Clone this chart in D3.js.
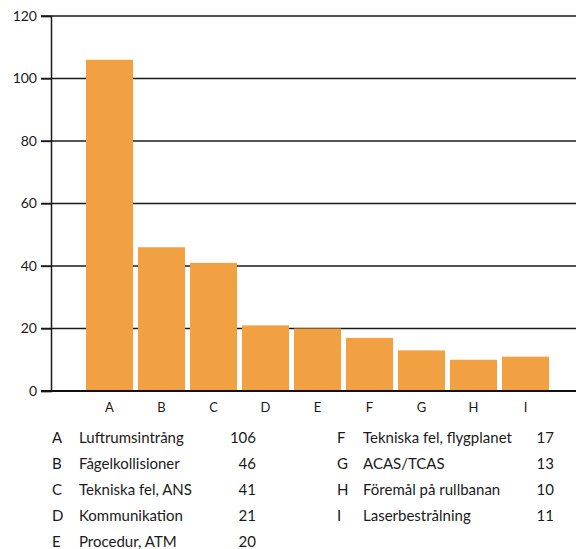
<!DOCTYPE html>
<html><head><meta charset="utf-8">
<script src="https://cdn.jsdelivr.net/npm/d3@7"></script>
<style>
html,body{margin:0;padding:0;background:#fff;}
svg text{font-family:Lato, "Open Sans", sans-serif;fill:#1a1a1a;}
</style></head>
<body>
<svg id="c" width="576" height="549"></svg>
<script>
const categories = ["A","B","C","D","E","F","G","H","I"];
const names = ["Luftrumsintrång","Fågelkollisioner","Tekniska fel, ANS","Kommunikation","Procedur, ATM","Tekniska fel, flygplanet","ACAS/TCAS","Föremål på rullbanan","Laserbestrålning"];
const values = [106,46,41,21,20,17,13,10,11];
const yTicks = [0,20,40,60,80,100,120];

const svg = d3.select("#c");
const y = d3.scaleLinear().domain([0,120]).range([391,16]);
const x = d3.scaleBand().domain(categories).range([83.5,551.5]).paddingInner(5/52).paddingOuter(5/104);

// gridlines
svg.append("g").selectAll("line").data(yTicks.filter(d=>d>0)).join("line")
  .attr("x1",41).attr("x2",576).attr("y1",d=>y(d)).attr("y2",d=>y(d))
  .attr("stroke","#1a1a1a").attr("stroke-width",1.3);

// bars
svg.append("g").selectAll("rect").data(values).join("rect")
  .attr("x",(d,i)=>x(categories[i])).attr("width",x.bandwidth())
  .attr("y",d=>y(d)).attr("height",d=>y(0)-y(d))
  .attr("fill","#F2A142");

// y axis
const yAxis = d3.axisLeft(y).tickValues(yTicks).tickSize(10).tickPadding(4);
const gy = svg.append("g").attr("transform","translate(51,0)").call(yAxis);
gy.select(".domain").attr("stroke","#1a1a1a").attr("stroke-width",1.5);
gy.selectAll(".tick line").attr("stroke","#1a1a1a").attr("stroke-width",1.3);
gy.selectAll(".tick text").attr("font-size",14).attr("fill","#1a1a1a").attr("font-family","Lato, sans-serif");

// zero line
svg.append("line").attr("x1",41).attr("x2",576).attr("y1",y(0)).attr("y2",y(0))
  .attr("stroke","#111").attr("stroke-width",2);

// x axis labels
const xAxis = d3.axisBottom(x).tickSize(0).tickPadding(12);
const gx = svg.append("g").attr("transform",`translate(0,${y(0)})`).call(xAxis);
gx.select(".domain").remove();
gx.selectAll(".tick text").attr("font-size",13).attr("fill","#1a1a1a").attr("font-family","Lato, sans-serif");

// legend
const legend = svg.append("g").attr("font-size",15);
categories.forEach((c,i)=>{
  const col = i<5?0:1;
  const row = i<5?i:i-5;
  const yy = 443 + row*26;
  const lx = col===0?52:337, nx = col===0?79:363, vx = col===0?256:554;
  legend.append("text").attr("x",lx).attr("y",yy).text(c);
  legend.append("text").attr("x",nx).attr("y",yy).text(names[i]);
  legend.append("text").attr("x",vx).attr("y",yy).attr("text-anchor","end").text(values[i]);
});
</script>
</body></html>
